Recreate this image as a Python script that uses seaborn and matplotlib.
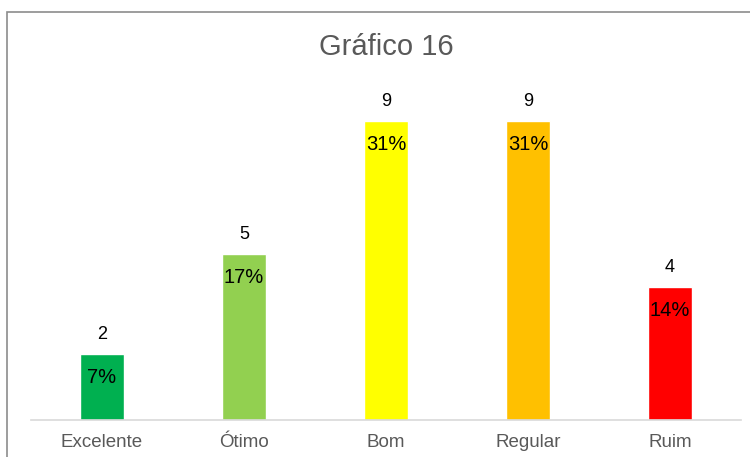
import matplotlib
matplotlib.use('Agg')
import matplotlib.pyplot as plt
import seaborn as sns
import pandas as pd

# Dados do gráfico
categorias = ['Excelente', 'Ótimo', 'Bom', 'Regular', 'Ruim']
quantidades = [2, 5, 9, 9, 4]
percentuais = ['7%', '17%', '31%', '31%', '14%']
cores = ['#00B050', '#92D050', '#FFFF00', '#FFC000', '#FF0000']

df = pd.DataFrame({'Categoria': categorias, 'Qtd': quantidades})

sns.set_style('white')
plt.rcParams['font.family'] = ['Liberation Sans', 'DejaVu Sans']

fig = plt.figure(figsize=(7.5, 4.57), dpi=100)
ax = fig.add_axes([31 / 750, 37 / 457, 710 / 750, 332 / 457])

sns.barplot(data=df, x='Categoria', y='Qtd', hue='Categoria', palette=cores,
            width=0.31, legend=False, ax=ax, saturation=1)

ax.set_ylim(0, 10)
ax.set_xlim(-0.5, len(categorias) - 0.5)
ax.set_xlabel('')
ax.set_ylabel('')
ax.set_yticks([])
ax.tick_params(axis='x', length=0, labelsize=13.5, labelcolor='#595959', pad=10)
for lado in ['top', 'right', 'left']:
    ax.spines[lado].set_visible(False)
ax.spines['bottom'].set_color('#d9d9d9')
ax.spines['bottom'].set_linewidth(1.2)

# Rótulos: quantidade acima, percentual dentro da barra
for i, (q, p) in enumerate(zip(quantidades, percentuais)):
    ax.annotate(str(q), (i, q), xytext=(0, 14), textcoords='offset points',
                ha='center', va='center', fontsize=13, color='black')
    ax.annotate(p, (i, q), xytext=(0, -17), textcoords='offset points',
                ha='center', va='center', fontsize=14.5, color='black')

fig.text(386 / 750, 1 - 47 / 457, 'Gráfico 16', ha='center', va='center',
         fontsize=21, color='#595959')

# Moldura da área do gráfico (cortada à direita e embaixo)
moldura = plt.Rectangle((7 / 750, -0.05), 1.0, 1 - 12 / 457 + 0.05,
                        transform=fig.transFigure, fill=False,
                        edgecolor='#8c8c8c', linewidth=1.2, clip_on=False)
fig.patches.append(moldura)

fig.savefig('out.png', dpi=100)
